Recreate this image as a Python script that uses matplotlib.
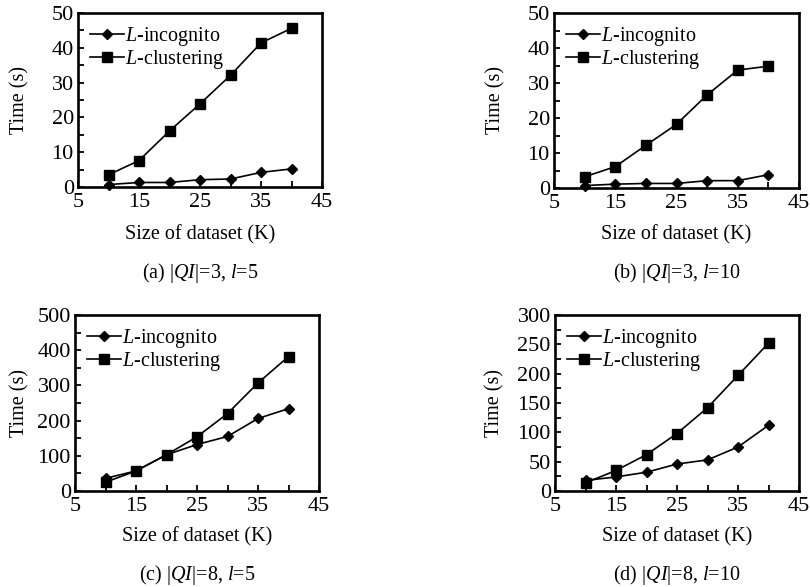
import matplotlib
matplotlib.use("Agg")
import matplotlib.pyplot as plt
from matplotlib.ticker import MultipleLocator

plt.rcParams['font.family'] = ['Liberation Serif', 'DejaVu Serif']
plt.rcParams['mathtext.fontset'] = 'custom'
plt.rcParams['mathtext.rm'] = 'Liberation Serif'
plt.rcParams['mathtext.it'] = 'Liberation Serif:italic'

# dataset sizes (K)
sizes = [10, 15, 20, 25, 30, 35, 40]
x_ticks = [5, 15, 25, 35, 45]
x_minor = [10, 20, 30, 40]

# (a) |QI|=3, l=5
a_incognito = [0.7, 1.3, 1.3, 2.1, 2.3, 4.2, 5.2]
a_clustering = [3.5, 7.6, 16.1, 23.9, 32.1, 41.4, 45.6]
# (b) |QI|=3, l=10
b_incognito = [0.7, 1.1, 1.3, 1.3, 2.1, 2.1, 3.8]
b_clustering = [3.2, 6.1, 12.2, 18.2, 26.6, 33.7, 34.8]
# (c) |QI|=8, l=5
c_incognito = [36, 57, 103, 132, 155, 206, 234]
c_clustering = [25, 57, 103, 154, 220, 307, 382]
# (d) |QI|=8, l=10
d_incognito = [18, 24, 32, 46, 53, 75, 112]
d_clustering = [14, 35, 62, 98, 142, 197, 252]

captions = ["(a) |$QI$|=3, $l$=5", "(b) |$QI$|=3, $l$=10",
            "(c) |$QI$|=8, $l$=5", "(d) |$QI$|=8, $l$=10"]
y_max = [50, 50, 500, 300]
y_step = [10, 10, 100, 50]

W, H = 810, 587
fig = plt.figure(figsize=(W / 100, H / 100), dpi=100)

# axes boxes in pixels: left, top, right, bottom
boxes = [(78, 13, 322, 187), (554, 13, 799, 188),
         (75, 315, 319, 491), (555, 315, 799, 491)]
caption_y = [273, 273, 575, 575]
xlabel_y = [235, 235, 537, 537]
ylabel_x = [20, 496, 20, 495]
series = [(a_incognito, a_clustering), (b_incognito, b_clustering),
          (c_incognito, c_clustering), (d_incognito, d_clustering)]

for i, (l, t, r, b) in enumerate(boxes):
    ax = fig.add_axes([l / W, 1 - b / H, (r - l) / W, (b - t) / H])
    inc, clu = series[i]
    ax.plot(sizes, inc, color='black', lw=1.2, marker='D', ms=5.5,
            label='$L$-incognito', clip_on=False)
    ax.plot(sizes, clu, color='black', lw=1.2, marker='s', ms=7,
            label='$L$-clustering', clip_on=False)
    ax.set_xlim(5, 45)
    ax.set_ylim(0, y_max[i])
    ax.set_xticks(x_ticks)
    ax.set_xticks(x_minor, minor=True)
    ax.yaxis.set_major_locator(MultipleLocator(y_step[i]))
    ax.yaxis.set_minor_locator(MultipleLocator(y_step[i] / 2))
    ax.tick_params(which='both', direction='in', length=4, width=1.3,
                   labelsize=16, top=False, right=False)
    ax.tick_params(axis='x', pad=4)
    ax.tick_params(axis='y', pad=3)
    for s in ax.spines.values():
        s.set_linewidth(1.9)
    ax.set_xlabel('Size of dataset (K)', fontsize=14.5)
    ax.xaxis.set_label_coords(0.5, (b - xlabel_y[i]) / (b - t))
    ax.xaxis.label.set_va('center')
    ax.set_ylabel('Time (s)', fontsize=14.5)
    ax.yaxis.set_label_coords((ylabel_x[i] - l) / (r - l), 0.5)
    ax.yaxis.label.set_va('center')
    ax.legend(loc='upper left', frameon=False, fontsize=14.5,
              handlelength=1.7, handletextpad=0.05, labelspacing=0.02,
              borderaxespad=0.3, borderpad=0.3)
    fig.text((l + r) / 2 / W, 1 - caption_y[i] / H, captions[i],
             ha='center', va='center', fontsize=14.5)

fig.savefig('out.png', dpi=100)
